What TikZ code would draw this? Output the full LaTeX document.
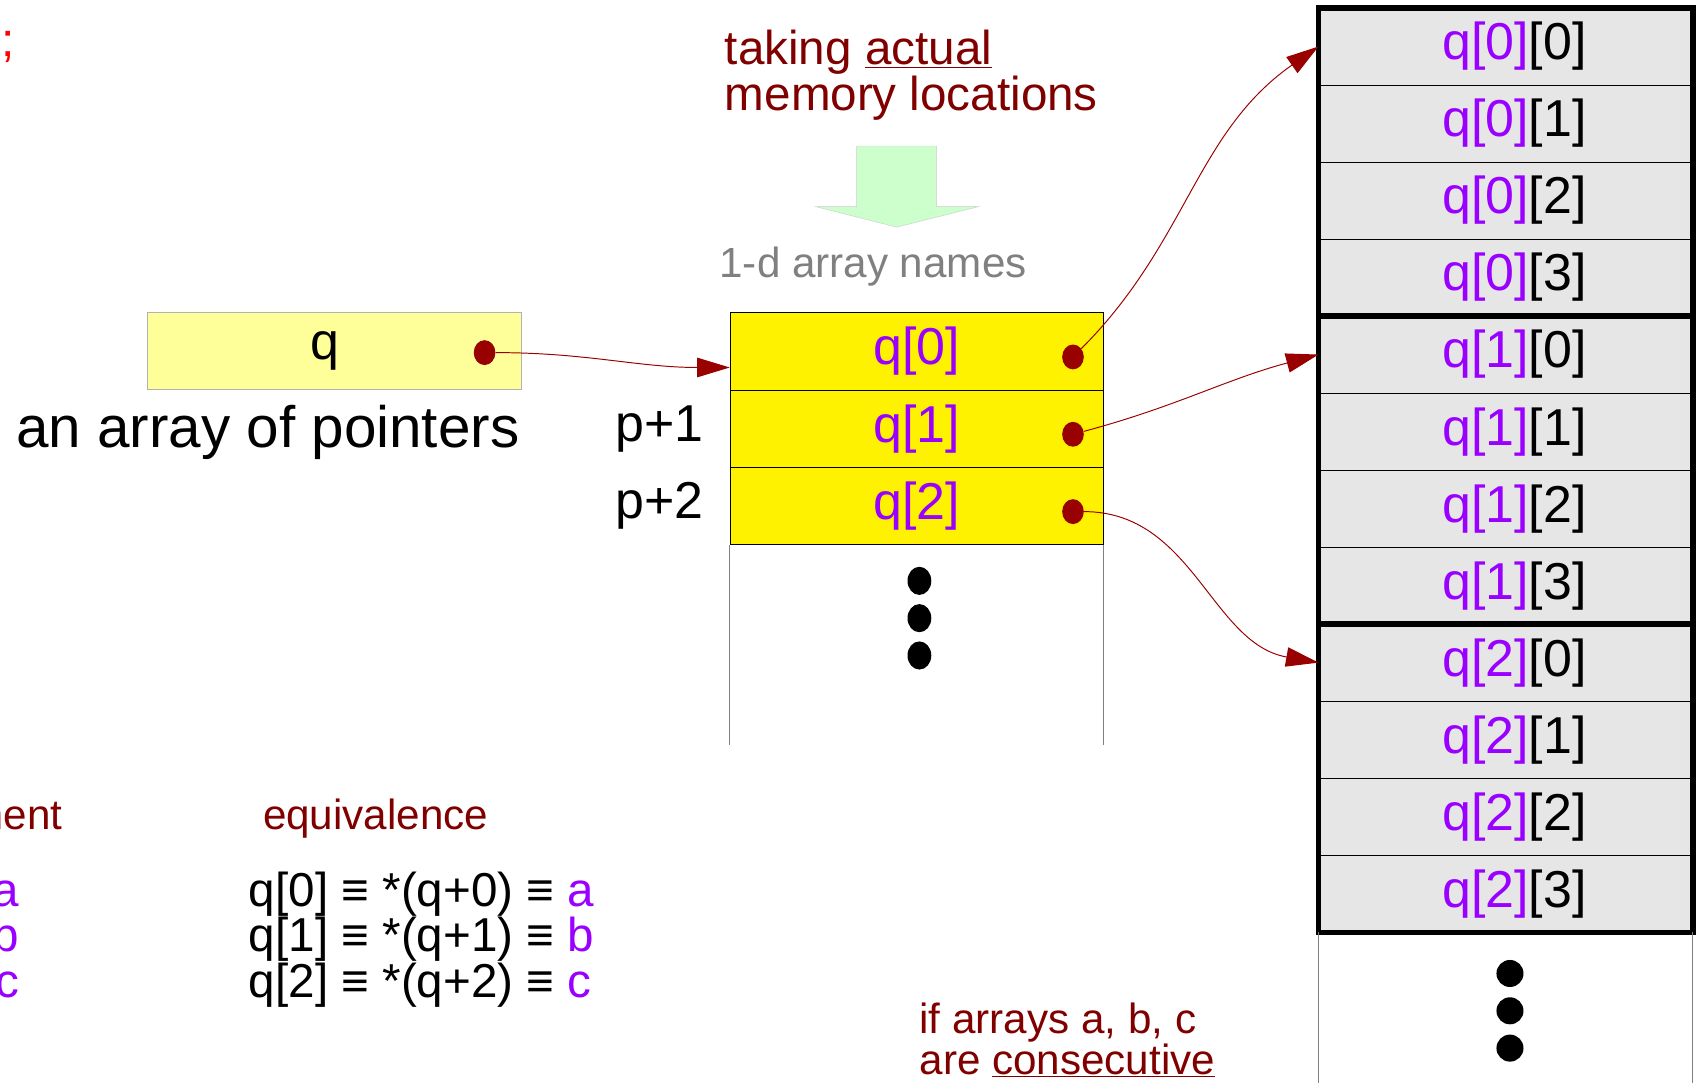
\documentclass[tikz,border=0pt]{standalone}
\usepackage{fontspec}
\setmainfont{Liberation Sans}
\usetikzlibrary{arrows.meta,positioning,shapes.geometric}

\definecolor{ptrred}{HTML}{990000}
\definecolor{notered}{HTML}{800000}
\definecolor{qviolet}{HTML}{9900FF}
\definecolor{cellgrey}{HTML}{E6E6E6}
\definecolor{boxyellow}{HTML}{FFFF99}
\definecolor{arrowgreen}{HTML}{CCFFCC}

\tikzset{
  big/.style={font=\fontsize{48}{48}\selectfont, inner sep=0},
  note/.style={text=notered, font=\fontsize{39}{35}\selectfont, inner sep=0},
  eqline/.style={font=\fontsize{44}{42}\selectfont, inner sep=0},
  qbox/.style={draw=gray!60, line width=0.8pt, fill=boxyellow, minimum width=346pt, minimum height=71.5pt, big},
  ptrcell/.style={draw, line width=0.8pt, fill=yellow, minimum width=345pt, minimum height=71.5pt, text=qviolet, big},
  elemcell/.style={draw, line width=0.6pt, fill=cellgrey, minimum width=345.5pt, minimum height=71.2pt, big},
  groupframe/.style={line width=5.5pt},
  ptrdot/.style={ellipse, fill=ptrred, minimum width=20pt, minimum height=23pt, inner sep=0},
  ptrlink/.style={ptrred, line width=0.9pt, -{Triangle[length=30pt,width=18pt]}},
  colline/.style={gray, line width=1pt},
}

\begin{document}
\begin{tikzpicture}[x=1pt, y=-1pt]
  \useasboundingbox (0,0) rectangle (1568,1001);

  \node[anchor=base west, text=red, font=\fontsize{44}{44}\selectfont, inner sep=0] (semi) at (1,52) {;};

  % the pointer variable q
  \node[qbox] (qvar) at (309,324.5) {\hspace*{-18pt}q};
  \node[ptrdot] (dq) at (448,326) {};
  \node[font=\fontsize{54}{54}\selectfont, inner sep=0, below left=14pt and 2pt of qvar.south east] (qname) {an array of pointers};

  % q[0], q[1], q[2]
  \foreach \k in {0,1,2}
    \node[ptrcell] (q\k) at (847.5,{324.75+71.5*\k}) {q[\k]};
  \foreach \k in {0,1,2}
    \node[ptrdot] (d\k) at (992,{330+71.5*\k}) {};
  \node[big, left=24pt of q1] (p1) {p+1};
  \node[big, left=24pt of q2] (p2) {p+2};
  \draw[colline] (q2.south west) -- ++(0,184.5);
  \draw[colline] (q2.south east) -- ++(0,184.5);
  \foreach \k in {0,1,2} \fill (850,{537+34.5*\k}) ellipse (11pt and 13pt);

  % rows of the 2-d array in memory
  \foreach \i in {0,1,2}
    \foreach \j in {0,1,2,3} {
      \pgfmathsetmacro\cy{7.4+71.2*(4*\i+\j+0.5)}
      \node[elemcell] (m-\i-\j) at (1392,\cy) {\hspace*{16pt}\textcolor{qviolet}{q[\i]}[\j]};
    }
  \foreach \i in {0,1,2}
    \draw[groupframe] (m-\i-0.north west) rectangle (m-\i-3.south east);
  \draw[colline] (m-2-3.south west) -- ++(0,142);
  \draw[colline] (m-2-3.south east) -- ++(0,142);
  \foreach \k in {0,1,2} \fill (1396,{900+34.5*\k}) circle (12.5pt);

  % pointers
  \draw[ptrlink] (dq) to[out=0, in=180] ([yshift=-15pt]q0.west);
  \draw[ptrlink] (d0) to[out=45, in=215] (m-0-0.west);
  \draw[ptrlink] (d1) to[out=15, in=195] (m-1-0.west);
  \draw[ptrlink] (d2) to[out=0, in=170] (m-2-0.west);

  % taking actual memory locations -> 1-d array names
  \node[note, font=\fontsize{44}{40}\selectfont, anchor=base west, align=left] (take) at (670,102) {taking \underline{actual}\\memory locations};
  \draw[draw=gray!40, fill=arrowgreen] (792,135) -- (866,135) -- (866,191) -- (905,191) -- (829,210) -- (754,191) -- (792,191) -- cycle;
  \node[anchor=base west, text=gray, font=\fontsize{39}{39}\selectfont, inner sep=0] (names) at (665,257) {1-d array names};

  % equivalence
  \node[note, anchor=base east] (assign) at (58,767) {ment};
  \node[note, anchor=base west] (equiv) at (243,767) {equivalence};
  \foreach \k/\v in {0/a,1/b,2/c} {
    \node[eqline, anchor=base east, text=qviolet] (v\k) at (18,{838+42*\k}) {\v};
    \node[eqline, anchor=base west] (eq\k) at (230,{838+42*\k}) {q[\k] ≡ *(q+\k) ≡ \textcolor{qviolet}{\v}};
  }
  \node[note, anchor=base west, align=left] (consec) at (850,993) {if arrays a, b, c\\are \underline{consecutive}};
\end{tikzpicture}
\end{document}
